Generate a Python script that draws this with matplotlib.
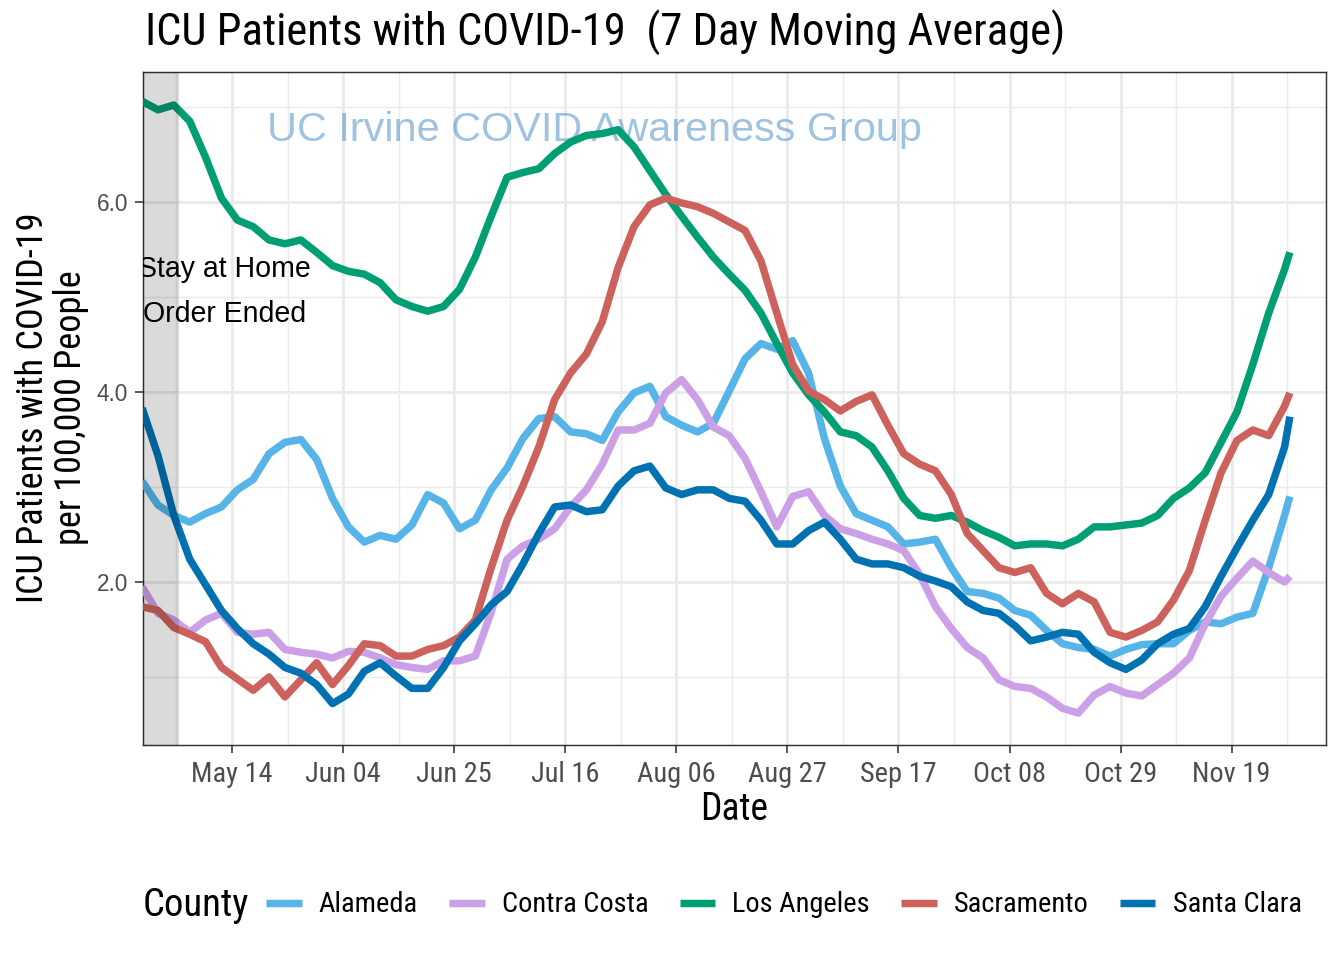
import pandas as pd
import matplotlib
matplotlib.use("Agg")
import matplotlib.pyplot as plt
from matplotlib import font_manager

# ---- data: 7 day moving average, ICU patients per 100k, read every 3 days from Apr 27 ----
start = pd.Timestamp("2020-04-27")
day_offsets = list(range(0, 217, 3)) + [217]

counties = ["Alameda", "Contra Costa", "Los Angeles", "Sacramento", "Santa Clara"]
colors = ["#56B4E9", "#CCA0E6", "#009E73", "#CD615C", "#0072B2"]

alameda = [3.06, 2.81, 2.70, 2.63, 2.72, 2.79, 2.97, 3.08, 3.35, 3.47, 3.50, 3.29, 2.88, 2.58,
           2.42, 2.49, 2.45, 2.60, 2.92, 2.83, 2.56, 2.65, 2.97, 3.20, 3.51, 3.72,
           3.74, 3.58, 3.56, 3.49, 3.79, 3.99, 4.06, 3.74, 3.65, 3.58, 3.67, 4.01,
           4.35, 4.51, 4.45, 4.54, 4.20, 3.51, 3.01, 2.72, 2.65, 2.58, 2.40, 2.42, 2.45,
           2.15, 1.90, 1.88, 1.83, 1.70, 1.65, 1.49, 1.35, 1.31, 1.29, 1.22, 1.29,
           1.34, 1.35, 1.35, 1.49, 1.58, 1.56, 1.63, 1.67, 2.15, 2.70,
           2.90]
contra_costa = [1.95, 1.67, 1.60, 1.47, 1.60, 1.67, 1.47, 1.45, 1.47, 1.29, 1.26, 1.24, 1.20, 1.27,
                1.26, 1.20, 1.13, 1.10, 1.08, 1.17, 1.17, 1.22, 1.68, 2.24, 2.38, 2.45,
                2.56, 2.79, 2.97, 3.24, 3.60, 3.60, 3.67, 3.99, 4.13, 3.92, 3.63, 3.54,
                3.30, 2.95, 2.58, 2.90, 2.95, 2.70, 2.56, 2.51, 2.45, 2.40, 2.33, 2.08, 1.74,
                1.51, 1.31, 1.20, 0.97, 0.90, 0.88, 0.79, 0.67, 0.62, 0.81, 0.90, 0.83,
                0.80, 0.92, 1.04, 1.20, 1.56, 1.85, 2.04, 2.22, 2.10, 2.00,
                2.06]
los_angeles = [7.06, 6.97, 7.02, 6.85, 6.47, 6.04, 5.81, 5.74, 5.60, 5.56, 5.60, 5.47, 5.33, 5.27,
               5.24, 5.15, 4.97, 4.90, 4.85, 4.90, 5.08, 5.42, 5.85, 6.26, 6.31, 6.35,
               6.51, 6.63, 6.70, 6.72, 6.76, 6.58, 6.33, 6.08, 5.85, 5.63, 5.42, 5.24,
               5.07, 4.83, 4.51, 4.20, 3.97, 3.79, 3.58, 3.54, 3.42, 3.17, 2.88, 2.70, 2.67,
               2.70, 2.63, 2.54, 2.47, 2.38, 2.40, 2.40, 2.38, 2.45, 2.58, 2.58, 2.60,
               2.62, 2.70, 2.88, 2.99, 3.15, 3.47, 3.79, 4.29, 4.83, 5.29,
               5.47]
sacramento = [1.74, 1.70, 1.52, 1.45, 1.37, 1.10, 0.98, 0.86, 1.00, 0.79, 0.97, 1.15, 0.92, 1.12,
              1.35, 1.33, 1.22, 1.22, 1.29, 1.33, 1.42, 1.60, 2.15, 2.65, 3.01, 3.42,
              3.92, 4.20, 4.40, 4.74, 5.31, 5.74, 5.97, 6.04, 5.99, 5.95, 5.88, 5.79,
              5.70, 5.38, 4.83, 4.29, 4.01, 3.92, 3.80, 3.90, 3.97, 3.65, 3.35, 3.24, 3.17,
              2.92, 2.51, 2.33, 2.15, 2.10, 2.15, 1.88, 1.77, 1.88, 1.79, 1.47, 1.42,
              1.49, 1.58, 1.81, 2.12, 2.65, 3.15, 3.49, 3.60, 3.54, 3.85,
              3.99]
santa_clara = [3.83, 3.33, 2.70, 2.24, 1.97, 1.70, 1.51, 1.35, 1.24, 1.10, 1.04, 0.92, 0.72, 0.82,
               1.06, 1.15, 1.01, 0.88, 0.88, 1.10, 1.38, 1.56, 1.76, 1.90, 2.19, 2.51,
               2.79, 2.81, 2.74, 2.76, 3.01, 3.17, 3.22, 2.99, 2.92, 2.97, 2.97, 2.88,
               2.85, 2.65, 2.40, 2.40, 2.54, 2.63, 2.45, 2.24, 2.19, 2.19, 2.15, 2.06, 2.01,
               1.95, 1.79, 1.70, 1.67, 1.54, 1.38, 1.42, 1.47, 1.45, 1.26, 1.15, 1.08,
               1.18, 1.35, 1.45, 1.51, 1.74, 2.06, 2.36, 2.65, 2.92, 3.42,
               3.74]
series = [alameda, contra_costa, los_angeles, sacramento, santa_clara]

order_end = pd.Timestamp("2020-05-04")
tick_dates = pd.date_range("2020-05-14", periods=10, freq="21D")
tick_labels = [d.strftime("%b %d") for d in tick_dates]
y_ticks = [2, 4, 6]
y_labels = ["2.0", "4.0", "6.0"]

dates = start + pd.to_timedelta(day_offsets, unit="D")

# narrow font for most text if one is installed, else shrink the regular one
names = {f.name for f in font_manager.fontManager.ttflist}
narrow, k = "Liberation Sans", 0.85
for fam, kk in [("Liberation Sans Narrow", 1.0), ("Roboto Condensed", 0.97)]:
    if fam in names:
        narrow, k = fam, kk
        break
reg = "Liberation Sans"

fig = plt.figure(figsize=(7, 5), dpi=192)
ax = fig.add_axes([143 / 1344, 1 - 745 / 960, (1326 - 143) / 1344, (745 - 72) / 960])

handles = []
for name, vals, c in zip(counties, series, colors):
    h, = ax.plot(dates, vals, color=c, lw=2.8, solid_joinstyle="round",
                 solid_capstyle="butt", label=name, zorder=3)
    handles.append(h)

x_left = start + pd.Timedelta(hours=4)
x_right = pd.Timestamp("2020-12-06 20:00")
ax.set_xlim(x_left, x_right)
ax.set_ylim(0.284, 7.368)

# shaded stay-at-home period, drawn over the lines
ax.axvspan(start - pd.Timedelta(days=5), order_end, color="black", alpha=0.145, lw=0, zorder=4)
ax.text(pd.Timestamp("2020-05-12 14:00"), 5.06, "Stay at Home\nOrder Ended",
        ha="center", va="center", fontsize=10.7, family=reg, linespacing=1.75,
        clip_on=True, zorder=5)

ax.text(pd.Timestamp("2020-07-21 14:00"), 6.76, "UC Irvine COVID Awareness Group",
        ha="center", va="center", fontsize=15.5, family=reg, color="#3F88C5",
        alpha=0.5, zorder=2)

# grid / ticks
ax.set_xticks(tick_dates)
ax.set_xticklabels(tick_labels, family=narrow, fontsize=11 * k, color="#4D4D4D")
minor_x = list(tick_dates - pd.Timedelta(hours=252)) + [tick_dates[-1] + pd.Timedelta(hours=252)]
ax.set_xticks(minor_x, minor=True)
ax.set_yticks(y_ticks)
ax.set_yticklabels(y_labels, family=reg, fontsize=8.5, color="#4D4D4D")
ax.set_yticks([1, 3, 5, 7], minor=True)
ax.tick_params(which="major", length=3, width=0.6, color="#333333")
ax.tick_params(axis="x", which="major", pad=3)
ax.tick_params(axis="y", which="major", pad=2.5)
ax.tick_params(which="minor", length=0)
ax.grid(which="major", color="#EBEBEB", lw=1.1, zorder=0)
ax.grid(which="minor", color="#EBEBEB", lw=0.55, zorder=0)
ax.set_axisbelow(True)
for s in ax.spines.values():
    s.set_color("#333333")
    s.set_linewidth(0.55)

fig.text(145 / 1344, 1 - 46 / 960, "ICU Patients with COVID-19  (7 Day Moving Average)",
         family=narrow, fontsize=17.27 * k, va="baseline", ha="left")
fig.text(734.5 / 1344, 1 - 810 / 960, "Date", family=narrow, fontsize=14.5 * k,
         ha="center", va="center")
fig.text(52 / 1344, 1 - 408 / 960, "ICU Patients with COVID-19\nper 100,000 People",
         family=narrow, fontsize=14 * k, rotation=90, ha="center", va="center",
         multialignment="center", linespacing=1.1)

fig.text(143 / 1344, 1 - 905 / 960, "County", family=narrow, fontsize=15 * k,
         ha="left", va="center")
fig.legend(handles, counties, ncol=5, loc="center left",
           bbox_to_anchor=(266 / 1344, 1 - 905 / 960), frameon=False, borderpad=0,
           borderaxespad=0, handlelength=1.25, handletextpad=0.6, columnspacing=1.1,
           prop={"family": narrow, "size": 11 * k})

fig.savefig("out.png", dpi=192)
